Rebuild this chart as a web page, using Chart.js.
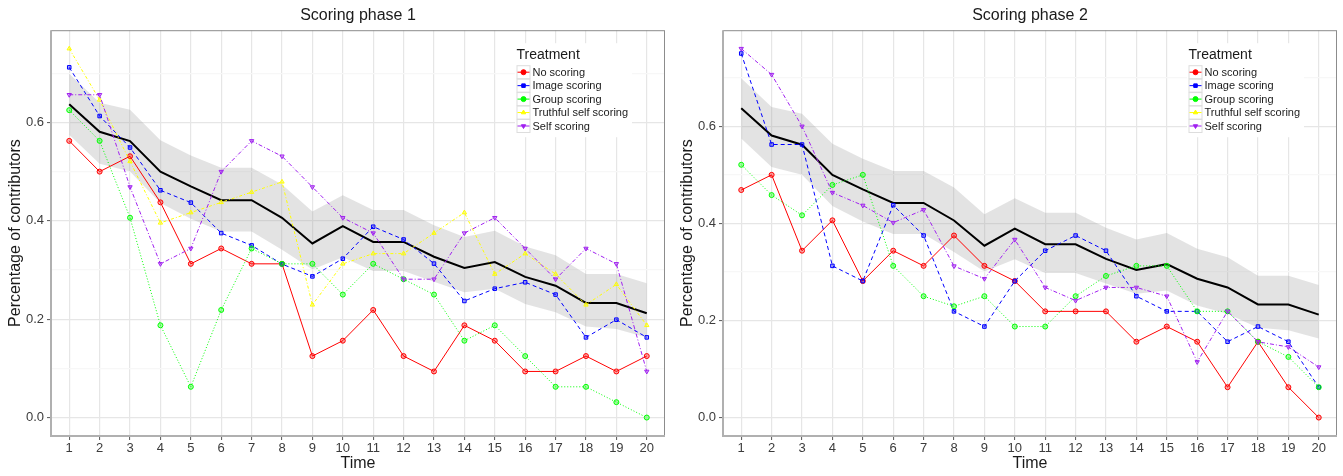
<!DOCTYPE html>
<html>
<head>
<meta charset="utf-8">
<title>Scoring phases</title>
<script src="https://cdn.jsdelivr.net/npm/chart.js@4.4.1/dist/chart.umd.min.js"></script>
<style>
body { margin: 0; background: #fff; }
canvas { position: absolute; top: 0; }
#phase1 { left: 0; }
#phase2 { left: 672px; }
</style>
</head>
<body>
<canvas id="phase1" width="672" height="476"></canvas>
<canvas id="phase2" width="671" height="476"></canvas>
<script>
const times = [1, 2, 3, 4, 5, 6, 7, 8, 9, 10, 11, 12, 13, 14, 15, 16, 17, 18, 19, 20]
const yTicks = [0, 0.1, 0.2, 0.3, 0.4, 0.5, 0.6, 0.7]
const treatments = ["No scoring", "Image scoring", "Group scoring", "Truthful self scoring", "Self scoring"]

// overall mean and its band, same in both phases
const meanShare = [0.637, 0.581, 0.562, 0.500, 0.470, 0.442, 0.442, 0.406, 0.354, 0.389, 0.357, 0.357, 0.327, 0.304, 0.316, 0.286, 0.268, 0.233, 0.233, 0.212]
const bandUpper = [0.699, 0.640, 0.626, 0.564, 0.533, 0.508, 0.508, 0.474, 0.419, 0.452, 0.422, 0.422, 0.391, 0.367, 0.380, 0.348, 0.330, 0.292, 0.292, 0.273]
const bandLower = [0.575, 0.516, 0.500, 0.436, 0.404, 0.378, 0.378, 0.341, 0.301, 0.326, 0.298, 0.298, 0.276, 0.255, 0.262, 0.231, 0.214, 0.185, 0.180, 0.163]

// phase 1
const noScoring1 = [0.5625, 0.5, 0.53125, 0.4375, 0.3125, 0.34375, 0.3125, 0.3125, 0.125, 0.15625, 0.21875, 0.125, 0.09375, 0.1875, 0.15625, 0.09375, 0.09375, 0.125, 0.09375, 0.125]
const imageScoring1 = [0.712, 0.613, 0.549, 0.462, 0.437, 0.375, 0.350, 0.312, 0.287, 0.323, 0.388, 0.362, 0.313, 0.237, 0.262, 0.275, 0.250, 0.163, 0.199, 0.163]
const groupScoring1 = [0.625, 0.5625, 0.40625, 0.1875, 0.0625, 0.21875, 0.34375, 0.3125, 0.3125, 0.25, 0.3125, 0.28125, 0.25, 0.15625, 0.1875, 0.125, 0.0625, 0.0625, 0.03125, 0]
const truthfulScoring1 = [0.75, 0.6458, 0.5208, 0.3958, 0.4167, 0.4375, 0.4583, 0.4792, 0.2292, 0.3125, 0.3333, 0.3333, 0.375, 0.4167, 0.2917, 0.3333, 0.2917, 0.2292, 0.2708, 0.1875]
const selfScoring1 = [0.65625, 0.65625, 0.46875, 0.3125, 0.34375, 0.5, 0.5625, 0.53125, 0.46875, 0.40625, 0.375, 0.28125, 0.28125, 0.375, 0.40625, 0.34375, 0.28125, 0.34375, 0.3125, 0.09375]

// phase 2 (no truthful self scoring groups)
const noScoring2 = [0.46875, 0.5, 0.34375, 0.40625, 0.28125, 0.34375, 0.3125, 0.375, 0.3125, 0.28125, 0.21875, 0.21875, 0.21875, 0.15625, 0.1875, 0.15625, 0.0625, 0.15625, 0.0625, 0]
const imageScoring2 = [0.75, 0.5625, 0.5625, 0.3125, 0.28125, 0.4375, 0.375, 0.21875, 0.1875, 0.28125, 0.34375, 0.375, 0.34375, 0.25, 0.21875, 0.21875, 0.15625, 0.1875, 0.15625, 0.0625]
const groupScoring2 = [0.5208, 0.4583, 0.4167, 0.4792, 0.5, 0.3125, 0.25, 0.2292, 0.25, 0.1875, 0.1875, 0.25, 0.2917, 0.3125, 0.3125, 0.2188, 0.2188, 0.1563, 0.125, 0.0625]
const truthfulScoring2 = [null, null, null, null, null, null, null, null, null, null, null, null, null, null, null, null, null, null, null, null]
const selfScoring2 = [0.760, 0.7065, 0.6, 0.4634, 0.437, 0.4016, 0.428, 0.312, 0.286, 0.3667, 0.268, 0.241, 0.268, 0.268, 0.25, 0.1146, 0.219, 0.156, 0.1455, 0.104]

const fontFamily = '"Liberation Sans", Arial, sans-serif'
Chart.defaults.font.family = fontFamily

// colour, dash, point style, point rotation for each treatment
const styles = [
    ["#ff0000", [], "circle", 0],
    ["#0000ff", [4, 3], "rect", 0],
    ["#00ff00", [1, 2], "circle", 0],
    ["#ffff00", [3, 2, 1, 2], "triangle", 0],
    ["#a020f0", [4, 2, 1, 2], "triangle", 180]
]

function toPoints(values){
    return values.map(function(v, i){ return {x: times[i], y: v} })
}

function treatmentSet(index, values){
    const s = styles[index]
    return {
        label: treatments[index],
        treatment: true,
        data: toPoints(values),
        borderColor: s[0],
        backgroundColor: s[0] + "55",
        borderWidth: 1,
        borderDash: s[1],
        pointStyle: s[2],
        pointRotation: s[3],
        pointRadius: 2.5,
        pointBorderWidth: 1,
        fill: false,
        order: 5 - index
    }
}

// panel frame and the Treatment legend inside the panel
const panelExtras = {
    id: "panelExtras",
    afterDraw(chart){
        const c = chart.ctx, a = chart.chartArea
        c.save()
        c.strokeStyle = "#8c8c8c"
        c.lineWidth = 1
        c.strokeRect(a.left + 0.5, a.top + 0.5, a.right - a.left - 1, a.bottom - a.top - 1)
        c.strokeStyle = "#b0b0b0"
        c.lineWidth = 2
        c.beginPath()
        c.moveTo(a.left, a.top)
        c.lineTo(a.left, a.bottom)
        c.lineTo(a.right, a.bottom)
        c.stroke()

        const lx = a.right - 150
        const ly = a.top + 13
        c.fillStyle = "#ffffff"
        c.fillRect(lx, ly, 117, 94)
        c.fillStyle = "#1a1a1a"
        c.textBaseline = "middle"
        c.font = "14px " + fontFamily
        c.fillText("Treatment", lx + 1.5, ly + 12)
        c.font = "11px " + fontFamily
        chart.data.datasets.filter(d => d.treatment).forEach(function(d, i){
            const ky = ly + 22 + i * 13.45
            const kx = lx + 1.5
            c.strokeStyle = "#dddddd"
            c.lineWidth = 1
            c.setLineDash([])
            c.strokeRect(kx + 0.5, ky + 0.5, 13, 13)
            c.strokeStyle = d.borderColor
            c.beginPath()
            c.moveTo(kx + 1, ky + 7)
            c.lineTo(kx + 13, ky + 7)
            c.stroke()
            c.fillStyle = d.borderColor
            Chart.helpers.drawPoint(c, {pointStyle: d.pointStyle, rotation: d.pointRotation, radius: 2.5, borderWidth: 1}, kx + 7, ky + 7)
            c.fillStyle = "#1a1a1a"
            c.fillText(d.label, kx + 16, ky + 7.5)
        })
        c.restore()
    }
}

function makePanel(canvasId, title, series, yMin, yMax, padRight){
    const datasets = [
        {label: "upper", data: toPoints(bandUpper), borderWidth: 0, pointRadius: 0, fill: "+1", backgroundColor: "rgba(150,150,150,0.27)", order: 20},
        {label: "lower", data: toPoints(bandLower), borderWidth: 0, pointRadius: 0, fill: false, order: 19},
        {label: "mean", data: toPoints(meanShare), borderColor: "#000000", borderWidth: 2, pointRadius: 0, fill: false, order: 10}
    ]
    series.forEach(function(values, i){ datasets.push(treatmentSet(i, values)) })

    return new Chart(document.getElementById(canvasId), {
        type: "line",
        data: {datasets: datasets},
        plugins: [panelExtras],
        options: {
            responsive: false,
            animation: false,
            layout: {padding: {left: 0, right: padRight, top: 0, bottom: 0}},
            plugins: {
                legend: {display: false},
                tooltip: {enabled: false},
                title: {
                    display: true,
                    text: title,
                    fullSize: false,
                    color: "#1a1a1a",
                    font: {size: 16, weight: "normal"},
                    padding: {top: 6, bottom: 5}
                }
            },
            scales: {
                x: {
                    type: "linear",
                    min: 0.4,
                    max: 20.6,
                    afterBuildTicks: function(scale){ scale.ticks = times.map(v => ({value: v})) },
                    afterFit: function(scale){ scale.height = 40 },
                    ticks: {autoSkip: false, maxRotation: 0, padding: 1, color: "#3c3c3c", font: {size: 13}},
                    grid: {color: "#e6e6e6", lineWidth: 1.2, tickLength: 4, tickColor: "#555555", tickWidth: 1},
                    border: {display: false},
                    title: {display: true, text: "Time", color: "#1a1a1a", font: {size: 16}, padding: {top: 3, bottom: 3}}
                },
                y: {
                    type: "linear",
                    min: yMin,
                    max: yMax,
                    afterBuildTicks: function(scale){ scale.ticks = yTicks.map(v => ({value: v})) },
                    afterFit: function(scale){ scale.width = 51 },
                    ticks: {
                        padding: 3,
                        color: "#3c3c3c",
                        font: {size: 13},
                        callback: function(v, i){ return i % 2 == 0 ? v.toFixed(1) : "" }
                    },
                    grid: {
                        color: ctx => ctx.index % 2 == 0 ? "#e6e6e6" : "#f7f7f7",
                        lineWidth: 1.2,
                        tickLength: 4,
                        tickColor: ctx => ctx.index % 2 == 0 ? "#555555" : "rgba(0,0,0,0)",
                        tickWidth: 1
                    },
                    border: {display: false},
                    title: {display: true, text: "Percentage of contributors", color: "#1a1a1a", font: {size: 16}, padding: {top: 6, bottom: 6}}
                }
            }
        }
    })
}

makePanel("phase1", "Scoring phase 1",
    [noScoring1, imageScoring1, groupScoring1, truthfulScoring1, selfScoring1], -0.0375, 0.7875, 7)
makePanel("phase2", "Scoring phase 2",
    [noScoring2, imageScoring2, groupScoring2, truthfulScoring2, selfScoring2], -0.038, 0.798, 6)
</script>
</body>
</html>
